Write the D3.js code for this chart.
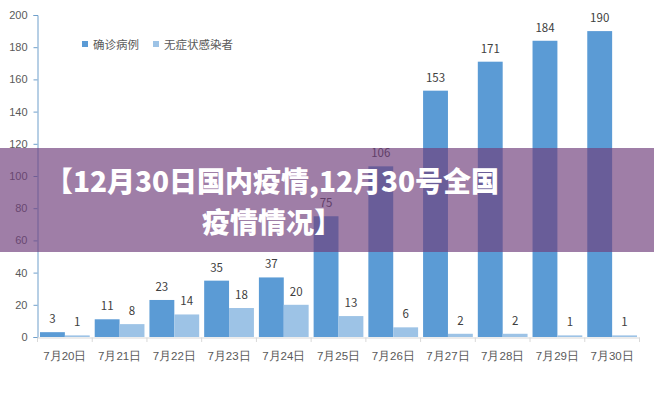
<!DOCTYPE html>
<html>
<head>
<meta charset="utf-8">
<script src="https://d3js.org/d3.v7.min.js"></script>
<style>
  body { margin: 0; background: #fff; }
  svg { display: block; font-family: "Noto Sans CJK SC", "Liberation Sans", sans-serif; }
</style>
</head>
<body>
<div id="chart"></div>
<script>
  // data
  const days = ["7月20日","7月21日","7月22日","7月23日","7月24日","7月25日","7月26日","7月27日","7月28日","7月29日","7月30日"];
  const confirmed = [3, 11, 23, 35, 37, 75, 106, 153, 171, 184, 190];
  const asymptomatic = [1, 8, 14, 18, 20, 13, 6, 2, 2, 1, 1];
  const seriesNames = ["确诊病例", "无症状感染者"];
  const yTicks = [0, 20, 40, 60, 80, 100, 120, 140, 160, 180, 200];
  const titleLines = ["【12月30日国内疫情,12月30号全国", "疫情情况】"];

  const width = 654, height = 401;
  const colors = ["#5b9bd5", "#9dc3e6"];

  const svg = d3.select("#chart").append("svg")
    .attr("width", width)
    .attr("height", height);

  const x = d3.scaleBand().domain(days).range([37.5, 639.5]).paddingInner(0).paddingOuter(0);
  const inner = d3.scaleBand().domain([0, 1]).range([0, x.bandwidth()]).paddingOuter(0.1).paddingInner(0);
  const y = d3.scaleLinear().domain([0, 200]).range([337, 15]);

  // y axis
  const yAxis = svg.append("g")
    .attr("transform", "translate(37.5,0)")
    .call(d3.axisLeft(y).tickValues(yTicks).tickSize(4).tickPadding(6));
  yAxis.select(".domain").attr("stroke", "#6f9fcb");
  yAxis.selectAll(".tick line").attr("stroke", "#6f9fcb");
  yAxis.selectAll("text").attr("fill", "#595959").attr("font-size", 11);

  // x axis
  const xAxis = svg.append("g")
    .attr("transform", "translate(0,337.5)")
    .call(d3.axisBottom(x).tickSize(0).tickPadding(14));
  xAxis.select(".domain").attr("stroke", "#d9d9d9");
  xAxis.selectAll("text").attr("fill", "#595959").attr("font-size", 11.5);
  // boundary ticks between categories
  svg.append("g").selectAll("line")
    .data(days.map(d => x(d)).concat([x.range()[1]]))
    .enter().append("line")
    .attr("x1", d => d).attr("x2", d => d)
    .attr("y1", 337.5).attr("y2", 342)
    .attr("stroke", "#d9d9d9");

  // bars
  const table = days.map((d, i) => ({ day: d, values: [confirmed[i], asymptomatic[i]] }));
  const groups = svg.append("g").selectAll("g")
    .data(table)
    .enter().append("g")
    .attr("transform", d => `translate(${x(d.day)},0)`);

  groups.selectAll("rect")
    .data(d => d.values.map((v, k) => ({ k, v })))
    .enter().append("rect")
    .attr("x", d => inner(d.k))
    .attr("width", inner.bandwidth())
    .attr("y", d => y(d.v))
    .attr("height", d => y(0) - y(d.v))
    .attr("fill", d => colors[d.k]);

  groups.selectAll("text")
    .data(d => d.values.map((v, k) => ({ k, v })))
    .enter().append("text")
    .attr("x", d => inner(d.k) + inner.bandwidth() / 2)
    .attr("y", d => y(d.v) - 9)
    .attr("text-anchor", "middle")
    .attr("font-size", 11.5)
    .attr("fill", "#404040")
    .text(d => d.v);

  // legend
  const legendX = [82, 153];
  const legend = svg.append("g").selectAll("g")
    .data(seriesNames)
    .enter().append("g")
    .attr("transform", (d, i) => `translate(${legendX[i]},41)`);
  legend.append("rect").attr("width", 6).attr("height", 6).attr("fill", (d, i) => colors[i]);
  legend.append("text").attr("x", 11).attr("y", 7.5)
    .attr("font-size", 11.5).attr("fill", "#595959").text(d => d);

  // title overlay
  svg.append("rect")
    .attr("x", 0).attr("y", 148)
    .attr("width", width).attr("height", 104)
    .attr("fill", "rgb(112,62,124)")
    .attr("fill-opacity", 0.67);

  svg.append("g").selectAll("text")
    .data(titleLines)
    .enter().append("text")
    .attr("x", 272)
    .attr("y", (d, i) => 192 + i * 41)
    .attr("text-anchor", "middle")
    .attr("font-size", 28)
    .attr("font-weight", 900)
    .attr("fill", "#fff")
    .text(d => d);
</script>
</body>
</html>
